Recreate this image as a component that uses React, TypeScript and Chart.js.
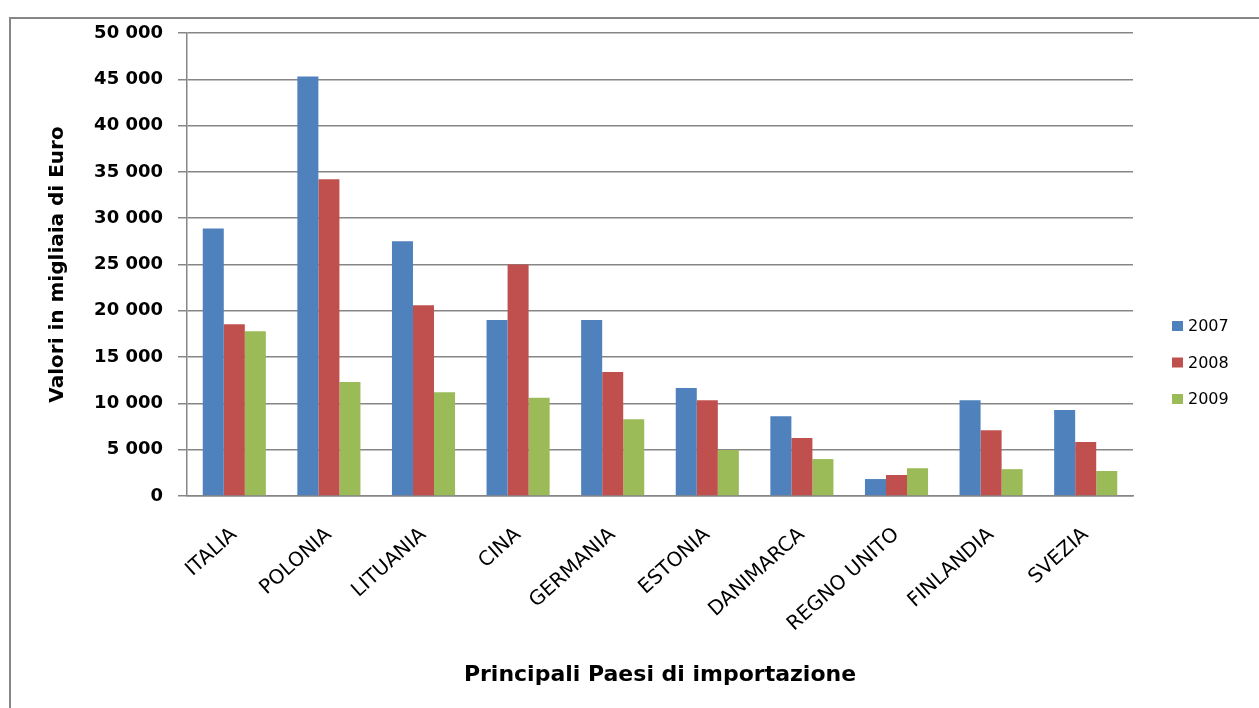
import React, { useEffect, useRef } from "react";
import { Chart, registerables } from "chart.js";

Chart.register(...registerables);

const categories = [
  "ITALIA",
  "POLONIA",
  "LITUANIA",
  "CINA",
  "GERMANIA",
  "ESTONIA",
  "DANIMARCA",
  "REGNO UNITO",
  "FINLANDIA",
  "SVEZIA",
];
const seriesLabels = ["2007", "2008", "2009"];
const values2007 = [28900, 45300, 27500, 19000, 19000, 11650, 8600, 1830, 10350, 9300];
const values2008 = [18550, 34200, 20600, 25000, 13400, 10350, 6260, 2270, 7100, 5830];
const values2009 = [17800, 12300, 11200, 10600, 8300, 4960, 3990, 3000, 2900, 2700];
const seriesColors = ["#4F81BD", "#C0504D", "#9BBB59"];
const yMin = 0;
const yMax = 50000;
const yStep = 5000;
const yTitle = "Valori in migliaia di Euro";
const xTitle = "Principali Paesi di importazione";

const GRID = "#868686";

function fmt(v: number): string {
  const s = String(Math.round(v));
  return s.replace(/\B(?=(\d{3})+(?!\d))/g, " ");
}

const framePlugin = {
  id: "frameAndLegend",
  afterDraw(chart: any) {
    const ctx = chart.ctx;
    ctx.save();
    // outer frame
    ctx.strokeStyle = GRID;
    ctx.lineWidth = 2;
    ctx.beginPath();
    ctx.moveTo(10, 708);
    ctx.lineTo(10, 18);
    ctx.lineTo(1259, 18);
    ctx.stroke();
    // legend
    const ds = chart.data.datasets;
    ctx.font = "16px 'DejaVu Sans'";
    ctx.textBaseline = "middle";
    ctx.textAlign = "left";
    for (let i = 0; i < ds.length; i++) {
      const cy = 326 + i * 36.5;
      ctx.fillStyle = ds[i].backgroundColor;
      ctx.fillRect(1172, cy - 5, 11, 10);
      ctx.fillStyle = "#000";
      ctx.fillText(ds[i].label, 1188, cy + 1);
    }
    ctx.restore();
  },
};

export default function App() {
  const ref = useRef<HTMLCanvasElement | null>(null);

  useEffect(() => {
    if (!ref.current) return;
    const seriesValues = [values2007, values2008, values2009];
    const chart = new Chart(ref.current, {
      type: "bar",
      data: {
        labels: categories,
        datasets: seriesLabels.map((label, i) => ({
          label,
          data: seriesValues[i],
          backgroundColor: seriesColors[i],
          borderWidth: 0,
          barPercentage: 1,
          categoryPercentage: 0.667,
        })),
      },
      options: {
        animation: false,
        responsive: false,
        layout: { padding: { left: 0, right: 126, top: 33, bottom: 0 } },
        plugins: {
          legend: { display: false },
          tooltip: { enabled: false },
          title: { display: false },
        },
        scales: {
          x: {
            grid: { display: false, drawTicks: false },
            border: { display: true, color: GRID, width: 1.5 },
            ticks: {
              autoSkip: false,
              maxRotation: 42,
              minRotation: 42,
              padding: 27,
              color: "#000",
              font: { family: "'DejaVu Sans'", size: 20 },
            },
            title: {
              display: true,
              text: xTitle,
              color: "#000",
              font: { family: "'DejaVu Sans'", size: 22, weight: "bold" },
              padding: { top: 0, bottom: 20 },
            },
            afterFit: (s: any) => {
              s.height = 212;
            },
          },
          y: {
            min: yMin,
            max: yMax,
            ticks: {
              stepSize: yStep,
              padding: 15,
              color: "#000",
              font: { family: "'DejaVu Sans'", size: 18, weight: "bold" },
              callback: (v: any) => fmt(Number(v)),
            },
            grid: { color: GRID, lineWidth: 1.5, tickLength: 9, drawTicks: true },
            border: { display: true, color: GRID, width: 1.5 },
            title: {
              display: true,
              text: yTitle,
              color: "#000",
              font: { family: "'DejaVu Sans'", size: 20, weight: "bold" },
              padding: { top: 46, bottom: 0 },
            },
            afterFit: (s: any) => {
              s.width = 187;
            },
          },
        },
      },
      plugins: [framePlugin],
    } as any);
    return () => chart.destroy();
  }, []);

  return (
    <div style={{ position: "fixed", left: 0, top: 0, width: 1259, height: 708, background: "#fff" }}>
      <canvas ref={ref} width={1259} height={708} style={{ display: "block" }} />
    </div>
  );
}
